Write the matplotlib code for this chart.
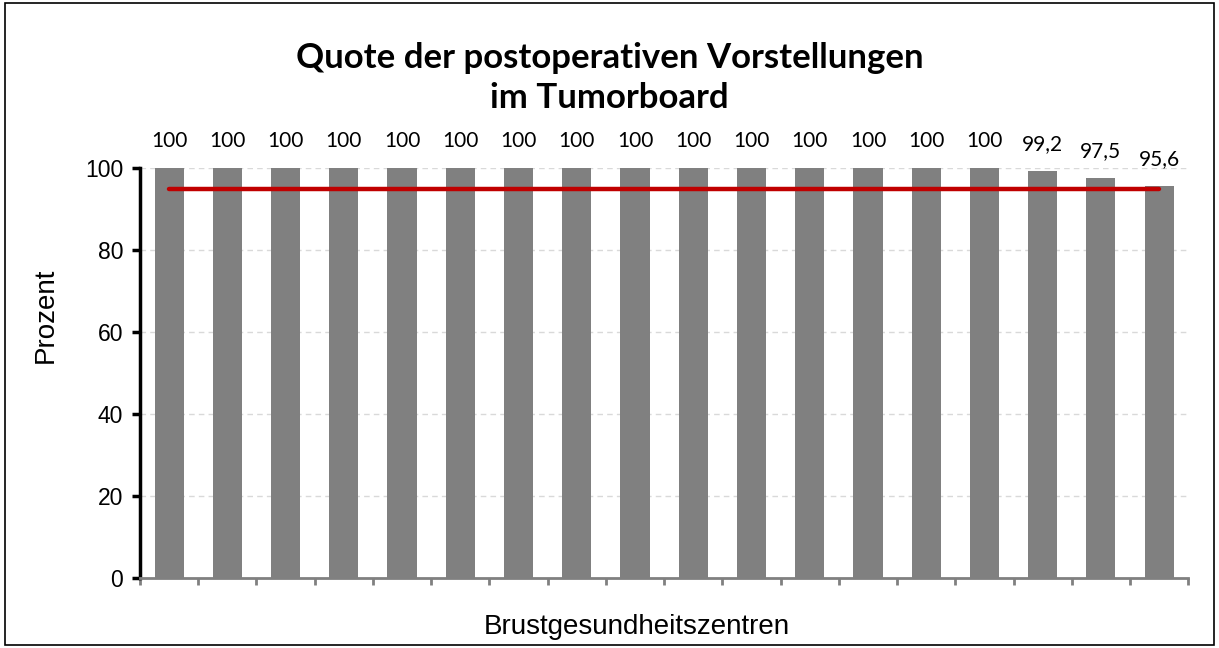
import numpy as np
import matplotlib
matplotlib.use("Agg")
import matplotlib.pyplot as plt
from matplotlib.patches import Rectangle

# Werte je Brustgesundheitszentrum (Prozent)
values = [100] * 15 + [99.2, 97.5, 95.6]
labels = ["100"] * 15 + ["99,2", "97,5", "95,6"]
target = 95
yticks = [0, 20, 40, 60, 80, 100]

title = "Quote der postoperativen Vorstellungen\nim Tumorboard"
xlabel = "Brustgesundheitszentren"
ylabel = "Prozent"

fig = plt.figure(figsize=(12.19, 6.48), dpi=100)
ax = fig.add_axes([0.1148, 0.108, 0.86, 0.6327])

x = np.arange(len(values))
ax.bar(x, values, width=0.5, color="#808080", zorder=3)
ax.plot([x[0], x[-1]], [target, target], color="#C00000", lw=3.2, zorder=4,
        solid_capstyle="round")

for xi, v, lab in zip(x, values, labels):
    ax.text(xi, v + 4.2, lab, ha="center", va="bottom", fontsize=15,
            family="Lato", color="black")

ax.set_xlim(-0.5, len(values) - 0.5)
ax.set_ylim(0, 100)
ax.set_yticks(yticks)
ax.set_yticklabels([str(t) for t in yticks], family="Liberation Sans", fontsize=16.5)
ax.set_xticks(np.arange(-0.5, len(values), 1.0))
ax.set_xticklabels([])

for t in yticks[1:]:
    ax.axhline(t, color="#D9D9D9", lw=1, ls=(0, (4, 3)), zorder=1)

for s in ["top", "right"]:
    ax.spines[s].set_visible(False)
ax.spines["left"].set_color("black")
ax.spines["left"].set_linewidth(2.5)
ax.spines["bottom"].set_color("#808080")
ax.spines["bottom"].set_linewidth(2)
ax.tick_params(axis="y", direction="out", length=6, width=2.5, color="black", pad=6)
ax.tick_params(axis="x", direction="out", length=5, width=2, color="#808080")

ax.set_ylabel(ylabel, family="Liberation Sans", fontsize=20)
ax.yaxis.set_label_coords(-0.077, 0.64)
ax.set_xlabel(xlabel, family="Liberation Sans", fontsize=20)
ax.xaxis.set_label_coords(0.474, -0.088)

fig.text(0.5, 0.88, title, ha="center", va="center", fontsize=25,
         fontweight="bold", family="Lato", linespacing=1.3)

fig.patches.append(Rectangle((0.004, 0.004), 0.992, 0.992, transform=fig.transFigure,
                             fill=False, edgecolor="black", lw=1.2))

fig.savefig("out.png", dpi=100)
